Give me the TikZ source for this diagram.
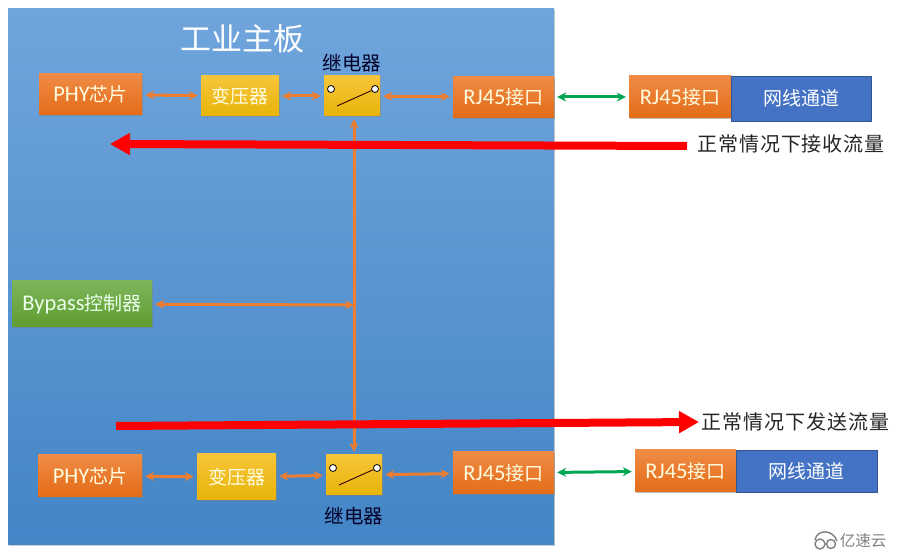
\documentclass[tikz,border=0pt]{standalone}
\usepackage{fontspec}
\setmainfont{Noto Sans CJK SC}
\newfontfamily\latfont[Scale=1.18]{Carlito}
\newfontfamily\flowfont[LetterSpace=4.6]{Noto Sans CJK SC}
\newcommand{\lat}[1]{{\latfont #1}}
\usetikzlibrary{arrows.meta,shadows}
\definecolor{wireorange}{HTML}{ED7D31}
\definecolor{wiregreen}{HTML}{00A651}
\definecolor{netblue}{HTML}{4472C4}
\definecolor{boardtop}{HTML}{70A5DC}
\definecolor{boardmid}{HTML}{5596DA}
\definecolor{boardlow}{HTML}{4385C6}
\definecolor{orangetop}{HTML}{F08B45}
\definecolor{orangelow}{HTML}{E36C18}
\definecolor{yellowtop}{HTML}{F7C53A}
\definecolor{yellowlow}{HTML}{E8B408}
\definecolor{greentop}{HTML}{7DB45A}
\definecolor{greenlow}{HTML}{5E9E30}
\tikzset{
    chipbox/.style={rectangle, drop shadow={shadow xshift=0.5pt, shadow yshift=-1.5pt, opacity=0.5}, inner sep=0pt, font=\fontsize{19}{22}\selectfont},
    orangebox/.style={chipbox, top color=orangetop, bottom color=orangelow, text=yellow!12},
    yellowbox/.style={chipbox, top color=yellowtop, bottom color=yellowlow, text=yellow!12},
    greenbox/.style={chipbox, top color=greentop, bottom color=greenlow, text=green!8},
    netbox/.style={rectangle, fill=netblue, draw=netblue!75!black, line width=0.6pt, inner sep=0pt, text=white, font=\fontsize{19}{22}\selectfont},
    contact/.style={circle, draw=black, fill=white, line width=0.8pt, minimum size=7pt, inner sep=0pt},
    wire/.style={<->, >={Stealth[length=9pt,width=9pt]}, wireorange, line width=3pt, shorten <=3pt, shorten >=3pt},
    greenwire/.style={wire, wiregreen},
    flow/.style={-{Triangle[length=20pt,width=21pt]}, red, line width=8pt},
    flowtext/.style={inner sep=0pt, text=black!85, font=\fontsize{20}{24}\flowfont},
    relaytext/.style={inner sep=0pt, text=black!85!blue, font=\fontsize{19.5}{23}\selectfont},
}
\begin{document}
\begin{tikzpicture}[x=1pt, y=1pt, node distance=100pt]
    \useasboundingbox (0,0) rectangle (903,554);

    % board
    \node[rectangle, minimum width=546pt, minimum height=536pt, top color=boardtop, middle color=boardmid, bottom color=boardlow, drop shadow={shadow xshift=1pt, shadow yshift=-1.5pt, opacity=0.4}] (board) at (281,277) {};
    \node[inner sep=0pt, text=white, font=\fontsize{31}{36}\selectfont] (title) at (242,515) {工业主板};

    % upper channel
    \node[orangebox, minimum width=103pt, minimum height=41pt] (phyA) at (90.5,459.5) {\lat{PHY}芯片};
    \node[yellowbox, minimum width=78pt, minimum height=40pt, right of=phyA, xshift=49.5pt, yshift=-1.5pt] (trafoA) {变压器};
    \node[yellowbox, minimum width=56pt, minimum height=40pt, right of=trafoA, xshift=12pt] (relayA) {};
    \node[relaytext, above of=relayA, yshift=-67pt] (relayAtext) {继电器};
    \node[orangebox, minimum width=101pt, minimum height=41pt, right of=relayA, xshift=51.5pt, yshift=-1pt] (rjA) {\lat{RJ45}接口};
    \node[orangebox, minimum width=102pt, minimum height=42pt, right of=rjA, xshift=76.5pt] (rjC) {\lat{RJ45}接口};
    \node[netbox, minimum width=140pt, minimum height=45pt, right of=rjC, xshift=21pt, yshift=-1.5pt] (netA) {网线通道};

    % controller
    \node[greenbox, minimum width=140pt, minimum height=46pt] (bypass) at (82,250) {\lat{Bypass}控制器};

    % lower channel
    \node[orangebox, minimum width=104pt, minimum height=42pt] (phyB) at (90,78) {\lat{PHY}芯片};
    \node[yellowbox, minimum width=79pt, minimum height=46pt, right of=phyB, xshift=46.5pt, yshift=-1pt] (trafoB) {变压器};
    \node[yellowbox, minimum width=56pt, minimum height=40pt, right of=trafoB, xshift=17.5pt, yshift=2pt] (relayB) {};
    \node[relaytext, below of=relayB, yshift=59pt] (relayBtext) {继电器};
    \node[orangebox, minimum width=101pt, minimum height=42pt, right of=relayB, xshift=49.5pt, yshift=2pt] (rjB) {\lat{RJ45}接口};
    \node[orangebox, minimum width=101pt, minimum height=42pt, right of=rjB, xshift=82pt, yshift=2pt] (rjD) {\lat{RJ45}接口};
    \node[netbox, minimum width=141pt, minimum height=42pt, right of=rjD, xshift=21pt] (netB) {网线通道};

    % relay symbols
    \foreach \relay in {relayA, relayB} {
        \node[contact, xshift=-21pt, yshift=7pt] (\relay left) at (\relay) {};
        \node[contact, xshift=23pt, yshift=7pt] (\relay right) at (\relay) {};
        \coordinate (\relay arm) at ([xshift=-15pt, yshift=-10pt]\relay.center);
        \draw[black!80!red, line width=0.9pt] (\relay arm) -- (\relay right);
    }

    % flow labels
    \node[flowtext] (rxtext) at (791,410) {正常情况下接收流量};
    \node[flowtext] (txtext) at (795.5,132) {正常情况下发送流量};
    \coordinate (rxtail) at (687,408);
    \coordinate (rxhead) at (110,410);
    \coordinate (txtail) at (116,128);
    \coordinate (txhead) at (699,132);

    % wires
    \draw[wire] (phyA) -- (trafoA);
    \draw[wire] (trafoA) -- (relayA);
    \draw[wire] (relayA) -- (rjA);
    \draw[greenwire] (rjA) -- (rjC);
    \draw[wire] (phyB) -- (trafoB);
    \draw[wire] (trafoB) -- (relayB);
    \draw[wire] (relayB) -- (rjB);
    \draw[greenwire] (rjB) -- (rjD);
    \coordinate (busjoin) at (354,249);
    \draw[wire, shorten >=0pt] (bypass) -- (busjoin);
    \draw[wire] ([xshift=2pt]relayA.south) -- (relayB.north);

    % traffic
    \draw[flow] (rxtail) -- (rxhead);
    \draw[flow] (txtail) -- (txhead);

    % watermark
    \node[inner sep=0pt, text=black!50, font=\fontsize{15.5}{18}\selectfont] (mark) at (863,13) {亿速云};
    \draw[black!50, line width=1.4pt] (820,10) circle (5pt) (831,10) circle (4.5pt);
    \draw[black!50, line width=1.4pt] (815,14) .. controls (817,25) and (833,25) .. (837,13);
\end{tikzpicture}
\end{document}
